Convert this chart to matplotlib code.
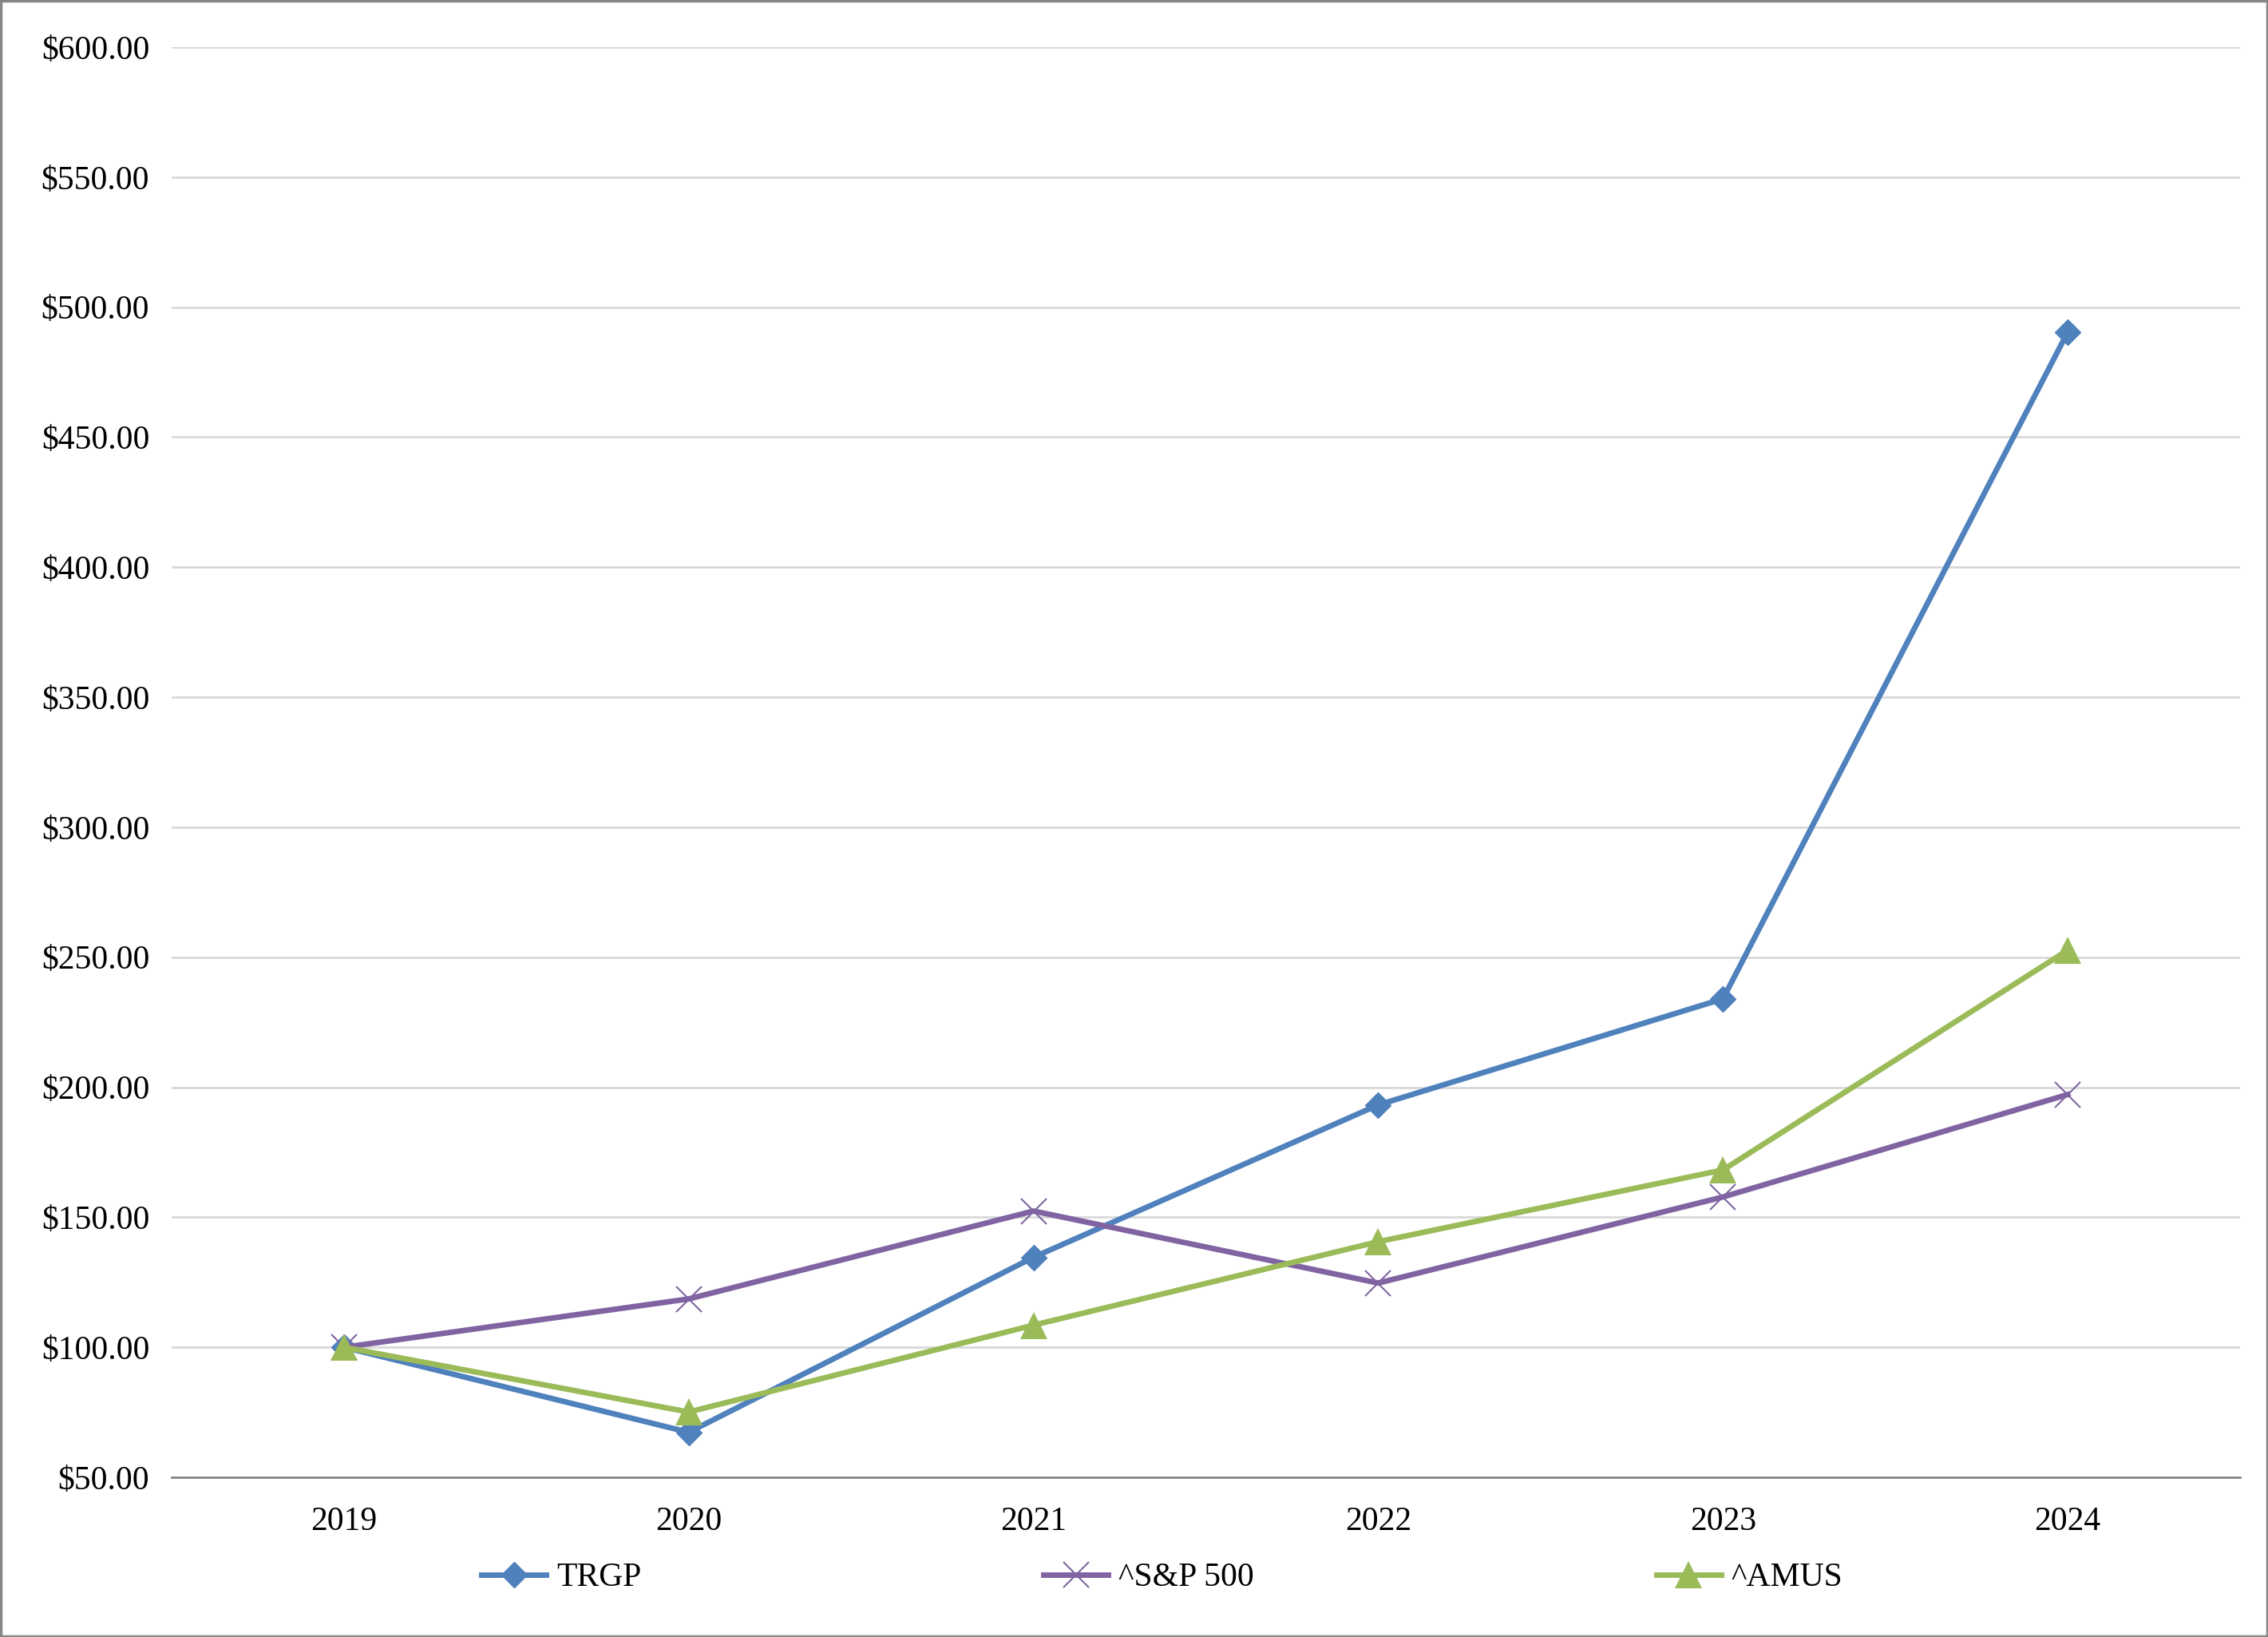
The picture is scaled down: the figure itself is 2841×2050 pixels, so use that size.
# Total return comparison chart: TRGP vs ^S&P 500 vs ^AMUS

import matplotlib
matplotlib.use('Agg')
import matplotlib.pyplot as plt
from matplotlib.patches import Rectangle
from matplotlib.ticker import FuncFormatter, MultipleLocator


# data
years = ['2019', '2020', '2021', '2022', '2023', '2024']
trgp = [100.0, 67.3, 134.6, 193.2, 234.0, 490.4]
spx = [100.0, 118.6, 152.4, 124.7, 157.8, 197.2]
amus = [100.0, 75.1, 108.5, 140.6, 168.2, 252.7]

# colors
col_blue = '#4F81BD'
col_purple = '#8064A2'
col_green = '#9BBB59'
col_grid = '#D9D9D9'
col_axis = '#868686'

plt.rcParams['font.family'] = ['Liberation Serif', 'DejaVu Serif']

fig = plt.figure(figsize=(28.41, 20.50), dpi=100)
ax = fig.add_axes([215/2841, 1 - 1850/2050, (2806-215)/2841, (1850-59)/2050])

x = range(len(years))
lw = 5.0

ax.plot(x, trgp, color=col_blue, linewidth=lw, marker='D', markersize=16.5,
        markeredgewidth=1, markerfacecolor=col_blue, markeredgecolor=col_blue,
        label='TRGP', zorder=3)
ax.plot(x, spx, color=col_purple, linewidth=lw, marker='x', markersize=23,
        markeredgewidth=1.5, markeredgecolor=col_purple,
        label='^S&P 500', zorder=4)
ax.plot(x, amus, color=col_green, linewidth=lw, marker='^', markersize=24,
        markeredgewidth=0, markerfacecolor=col_green,
        label='^AMUS', zorder=5)

# axes
ax.set_xlim(-0.5, len(years) - 0.5)
ax.set_ylim(50, 600)
ax.yaxis.set_major_locator(MultipleLocator(50))
ax.yaxis.set_major_formatter(FuncFormatter(lambda v, p: f'${v:,.2f}'))
ax.set_xticks(list(x))
ax.set_xticklabels(years)
ax.tick_params(axis='both', length=0, labelsize=30, colors='black')
ax.tick_params(axis='y', pad=20)
ax.tick_params(axis='x', pad=26)

ax.grid(axis='y', color=col_grid, linewidth=2)
ax.set_axisbelow(True)
for s in ['top', 'right', 'left']:
    ax.spines[s].set_visible(False)
ax.spines['bottom'].set_color(col_axis)
ax.spines['bottom'].set_linewidth(2)

# legend
fig.legend(loc='center left', bbox_to_anchor=(603/2841, 1 - 1976/2050), ncol=3,
           frameon=False, fontsize=30, handlelength=1.95, handletextpad=0.3,
           columnspacing=12.1, borderpad=0, borderaxespad=0)

# outer frame
fig.patches.append(Rectangle((0.0005, 0.0007), 0.999, 0.9986, transform=fig.transFigure,
                             fill=False, edgecolor=col_axis, linewidth=2.5))

fig.savefig('out.png', dpi=100)
